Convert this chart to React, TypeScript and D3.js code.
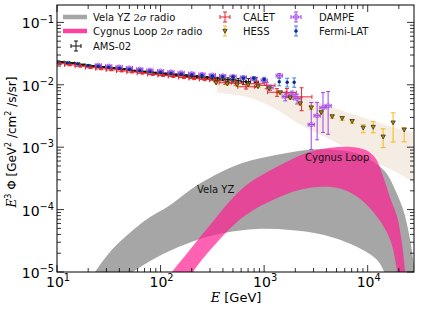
import * as d3 from 'd3';

// ---------- data (E in GeV, E^3 flux in GeV^2/cm^2/s/sr) ----------
const amsE = [10, 11.2, 12.6, 14.1, 15.8, 17.8, 20, 22.4, 25.1, 28.2, 31.6, 35.5, 39.8, 44.7, 50.1, 56.2, 63.1, 70.8, 79.4, 89.1, 100, 112, 126, 141, 158, 178, 200, 224, 251, 282, 316, 355, 398, 447, 501, 562, 631, 708, 840];
const amsF = [0.0235, 0.0231, 0.0226, 0.0222, 0.0218, 0.021, 0.0203, 0.0199, 0.0195, 0.0192, 0.0188, 0.0185, 0.0181, 0.0178, 0.0175, 0.0168, 0.0165, 0.0162, 0.0159, 0.0156, 0.0153, 0.0151, 0.0148, 0.0145, 0.0143, 0.014, 0.0137, 0.0135, 0.0133, 0.013, 0.0129, 0.0125, 0.0124, 0.0121, 0.012, 0.0116, 0.0112, 0.0112, 0.011];
const amsErr = [0.02, 0.02, 0.02, 0.02, 0.02, 0.02, 0.02, 0.02, 0.02, 0.02, 0.02, 0.02, 0.02, 0.02, 0.02, 0.02, 0.02, 0.02, 0.02, 0.02, 0.025, 0.025, 0.03, 0.03, 0.03, 0.035, 0.035, 0.04, 0.04, 0.045, 0.05, 0.055, 0.06, 0.07, 0.08, 0.09, 0.1, 0.12, 0.18];

const calE = [10.6, 13.3, 16.8, 21.1, 26.6, 33.5, 42.2, 53.1, 66.8, 84.1, 106, 133, 168, 211, 266, 335, 422, 531, 669, 842, 1060, 1330, 1660, 2300];
const calF = [0.0218, 0.0208, 0.0198, 0.0188, 0.018, 0.0173, 0.0166, 0.016, 0.0153, 0.0146, 0.0141, 0.0136, 0.0131, 0.0126, 0.0122, 0.0118, 0.0108, 0.0106, 0.0093, 0.0104, 0.0098, 0.0076, 0.0075, 0.0064];
const calErr = [0.03, 0.03, 0.03, 0.03, 0.03, 0.03, 0.03, 0.03, 0.03, 0.03, 0.035, 0.035, 0.04, 0.04, 0.045, 0.05, 0.06, 0.07, 0.08, 0.1, 0.12, 0.14, 0.16, 0.4];
const calBin = [0.05, 0.05, 0.05, 0.05, 0.05, 0.05, 0.05, 0.05, 0.05, 0.05, 0.05, 0.05, 0.05, 0.05, 0.05, 0.05, 0.06, 0.07, 0.08, 0.08, 0.08, 0.09, 0.09, 0.1];

const dampeE = [25, 31.6, 39.8, 50, 63, 79, 100, 126, 158, 200, 251, 316, 398, 501, 631, 794, 1000, 1140, 1400, 1600, 1860, 2080, 2850, 3250, 3700, 4150];
const dampeF = [0.0206, 0.0199, 0.0193, 0.0186, 0.0178, 0.0171, 0.0166, 0.0161, 0.0156, 0.0151, 0.0147, 0.0143, 0.0139, 0.0136, 0.0131, 0.0125, 0.0118, 0.009, 0.014, 0.0065, 0.0069, 0.006, 0.0023, 0.0032, 0.0043, 0.0046];
const dampeDn = [0.03, 0.03, 0.03, 0.03, 0.03, 0.03, 0.03, 0.03, 0.03, 0.03, 0.03, 0.03, 0.035, 0.04, 0.05, 0.06, 0.08, 0.1, 0.08, 0.15, 0.15, 0.18, 0.6, 0.59, 0.6, 0.65];
const dampeUp = [0.03, 0.03, 0.03, 0.03, 0.03, 0.03, 0.03, 0.03, 0.03, 0.03, 0.03, 0.03, 0.035, 0.04, 0.05, 0.06, 0.08, 0.1, 0.08, 0.15, 0.15, 0.18, 1.26, 0.63, 0.74, 0.7];

const fermiE = [10, 12.6, 15.8, 20, 25, 31.6, 40, 50, 63, 79, 100, 126, 158, 200, 251, 316, 398, 501, 631, 794, 1000, 1400, 1670, 1950];
const fermiF = [0.0232, 0.0224, 0.0216, 0.0205, 0.0197, 0.019, 0.0183, 0.0176, 0.0168, 0.0162, 0.0157, 0.0152, 0.0148, 0.0144, 0.014, 0.0137, 0.0135, 0.0133, 0.0128, 0.0127, 0.0122, 0.0112, 0.011, 0.011];
const fermiErr = [0.02, 0.02, 0.02, 0.02, 0.02, 0.02, 0.02, 0.02, 0.02, 0.02, 0.02, 0.02, 0.02, 0.025, 0.03, 0.035, 0.04, 0.05, 0.06, 0.07, 0.08, 0.14, 0.16, 0.17];

const hessE = [344, 440, 548, 700, 875, 1117, 1428, 1783, 2228, 2845, 3556, 4540, 5670, 7080, 9050, 11300, 14100, 17600, 22500];
const hessF = [0.0108, 0.0104, 0.01, 0.01, 0.0094, 0.0087, 0.0075, 0.0062, 0.005, 0.0043, 0.0036, 0.0031, 0.0029, 0.0026, 0.00205, 0.0021, 0.00147, 0.00247, 0.0019];
const hessDn = [0.04, 0.04, 0.04, 0.04, 0.04, 0.05, 0.05, 0.05, 0.05, 0.06, 0.06, 0.06, 0.07, 0.07, 0.17, 0.19, 0.33, 0.51, 0.36];
const hessUp = [0.04, 0.04, 0.04, 0.04, 0.04, 0.05, 0.05, 0.05, 0.05, 0.06, 0.06, 0.06, 0.07, 0.07, 0.12, 0.22, 0.34, 0.44, 0.08];

// HESS systematic band
const beigeUpE = [351, 586, 914, 1428, 2228, 3478, 6070, 10580, 18430, 29420];
const beigeUpV = [0.0121, 0.0112, 0.01, 0.00834, 0.00668, 0.00516, 0.0037, 0.00275, 0.00205, 0.0017];
const beigeLoE = [351, 525, 733, 1023, 1428, 1994, 2783, 4340, 6770, 10580, 18430, 29420];
const beigeLoV = [0.00746, 0.00693, 0.00621, 0.00498, 0.0037, 0.00256, 0.0019, 0.00132, 0.000908, 0.000628, 0.000403, 0.000258];

// Vela YZ 2 sigma radio band
const velaUpE = [20.5, 23.3, 32.5, 54.2, 79.2, 116, 193, 301, 627, 1336, 2783, 4850, 7570, 10580, 14760, 18430, 22030, 25180, 27520, 29420];
const velaUpV = [7e-6, 1e-5, 2.1e-5, 4.7e-5, 7.6e-5, 1.1e-4, 2.07e-4, 3.23e-4, 5.62e-4, 7.55e-4, 9.08e-4, 9.08e-4, 8.13e-4, 6.28e-4, 4.03e-4, 2.07e-4, 9.9e-5, 3.9e-5, 1.56e-5, 7.4e-6];
const velaLoE = [45, 54.2, 79.2, 116, 225, 411, 855, 1782, 3800, 7920, 12350, 14420, 15500];
const velaLoV = [7.5e-6, 1e-5, 1.5e-5, 2.1e-5, 3.27e-5, 4.23e-5, 4.9e-5, 4.72e-5, 3.93e-5, 2.52e-5, 1.56e-5, 1e-5, 7e-6];

// Cygnus Loop 2 sigma radio band
const cygUpE = [112, 129, 193, 301, 627, 1336, 2783, 4340, 6770, 9460, 11810, 14120, 16500, 19280, 21530, 23030, 23600];
const cygUpV = [7e-6, 1e-5, 2.3e-5, 5.68e-5, 2.23e-4, 4.84e-4, 8.43e-4, 9.77e-4, 1.01e-3, 9.08e-4, 6.76e-4, 3.35e-4, 1.54e-4, 7.64e-5, 2.71e-5, 1e-5, 7e-6];
const cygLoE = [185, 206, 301, 627, 1336, 2783, 5070, 7920, 12350, 16500, 19280, 19700];
const cygLoV = [7e-6, 1e-5, 2.25e-5, 7.64e-5, 1.54e-4, 2.23e-4, 2.23e-4, 1.6e-4, 7.64e-5, 3.27e-5, 1e-5, 7e-6];

// ---------- scales ----------
const left = 57, right = 414, top = 5, bottom = 272;
const x = d3.scaleLog().domain([10, 28000]).range([left, right]);
const y = d3.scaleLog().domain([1e-5, 0.19]).range([bottom, top]);

const font = 'DejaVu Sans, sans-serif';

function bandPath(upE: number[], upV: number[], loE: number[], loV: number[]) {
  const line = d3.line<number[]>()
    .x(d => x(d[0]))
    .y(d => y(d[1]))
    .curve(d3.curveCatmullRom.alpha(0.5));
  const up = upE.map((e, i) => [e, upV[i]]);
  const lo = loE.map((e, i) => [e, loV[i]]).reverse();
  return line(up) + (line(lo) || '').replace(/^M/, 'L') + 'Z';
}

function ErrSeries(props: {
  e: number[]; f: number[]; dn: number[]; up: number[]; bin?: number[] | number;
  color: string; cap?: number; marker: (cx: number, cy: number, k: number) => any;
}) {
  const { e, f, dn, up, bin, color, cap = 2 } = props;
  return (
    <g>
      {e.map((ev, i) => {
        const cx = x(ev), cy = y(f[i]);
        const y0 = y(f[i] * (1 - dn[i])), y1 = y(f[i] * (1 + up[i]));
        const hw = bin === undefined ? 0 : (typeof bin === 'number' ? bin : bin[i]);
        const x0 = x(ev * Math.pow(10, -hw)), x1 = x(ev * Math.pow(10, hw));
        return (
          <g key={i} stroke={color} strokeWidth={1} fill="none">
            <line x1={cx} x2={cx} y1={y0} y2={y1} />
            <line x1={cx - cap} x2={cx + cap} y1={y0} y2={y0} />
            <line x1={cx - cap} x2={cx + cap} y1={y1} y2={y1} />
            {hw > 0 && (
              <g>
                <line x1={x0} x2={x1} y1={cy} y2={cy} />
                <line x1={x0} x2={x0} y1={cy - cap} y2={cy + cap} />
                <line x1={x1} x2={x1} y1={cy - cap} y2={cy + cap} />
              </g>
            )}
            {props.marker(cx, cy, i)}
          </g>
        );
      })}
    </g>
  );
}

const colAms = '#111111';
const colCal = '#e8222c';
const colHessErr = '#f7b916';
const colDampe = '#a243e6';
const colFermiErr = '#3f7fe6';
const colFermi = '#0b2a85';
const colGray = '#a6a6a6';
const colPink = '#ff1f93';

const tri = (cx: number, cy: number, s = 2.2) =>
  `M${cx - s},${cy - s * 0.8}L${cx + s},${cy - s * 0.8}L${cx},${cy + s}Z`;

const markers = {
  ams: (cx: number, cy: number) => <circle cx={cx} cy={cy} r={1} fill={colAms} stroke="none" />,
  cal: (cx: number, cy: number) => <circle cx={cx} cy={cy} r={1} fill={colCal} stroke="none" />,
  hess: (cx: number, cy: number) => <path d={tri(cx, cy)} fill="#b08a10" stroke="#222" strokeWidth={0.7} />,
  dampe: (cx: number, cy: number) => <circle cx={cx} cy={cy} r={2.1} fill="none" stroke={colDampe} strokeWidth={0.8} />,
  fermi: (cx: number, cy: number) => <circle cx={cx} cy={cy} r={1.7} fill={colFermi} stroke="none" />,
};

function Sup({ base, exp, size }: { base: string; exp: string; size: number }) {
  return (
    <>
      <tspan>{base}</tspan>
      <tspan dy={-size * 0.42} fontSize={size * 0.7}>{exp}</tspan>
    </>
  );
}

const expLabel = (t: number) => String(Math.round(Math.log10(t))).replace('-', '\u2212');

export default function App() {
  const xTicks = x.ticks();
  const yTicks = y.ticks();
  const isMajor = (v: number) => Math.abs(Math.log10(v) - Math.round(Math.log10(v))) < 1e-6;

  const legendRow = [17, 31, 46];
  const legendErr = (cx: number, cy: number, color: string, horiz: boolean) => (
    <g stroke={color} strokeWidth={1}>
      <line x1={cx} x2={cx} y1={cy - 5} y2={cy + 5} />
      <line x1={cx - 2} x2={cx + 2} y1={cy - 5} y2={cy - 5} />
      <line x1={cx - 2} x2={cx + 2} y1={cy + 5} y2={cy + 5} />
      {horiz && (
        <g>
          <line x1={cx - 5} x2={cx + 5} y1={cy} y2={cy} />
          <line x1={cx - 5} x2={cx - 5} y1={cy - 2} y2={cy + 2} />
          <line x1={cx + 5} x2={cx + 5} y1={cy - 2} y2={cy + 2} />
        </g>
      )}
    </g>
  );

  return (
    <svg width={421} height={316} style={{ position: 'absolute', left: 0, top: 0, background: '#fff' }} fontFamily={font}>
      <defs>
        <clipPath id="plot">
          <rect x={left} y={top} width={right - left} height={bottom - top} />
        </clipPath>
      </defs>
      <rect x={0} y={0} width={421} height={316} fill="#fff" />
      <g clipPath="url(#plot)">
        <path d={bandPath(beigeUpE, beigeUpV, beigeLoE, beigeLoV)} fill="#f5ede3" />
        <path d={bandPath(velaUpE, velaUpV, velaLoE, velaLoV)} fill={colGray} />
        <path d={bandPath(cygUpE, cygUpV, cygLoE, cygLoV)} fill={colPink} fillOpacity={0.7} />
        <ErrSeries e={amsE} f={amsF} dn={amsErr} up={amsErr} bin={0.02} color={colAms} cap={1.5} marker={markers.ams} />
        <ErrSeries e={calE} f={calF} dn={calErr} up={calErr} bin={calBin} color={colCal} cap={2} marker={markers.cal} />
        <ErrSeries e={dampeE} f={dampeF} dn={dampeDn} up={dampeUp} bin={0.03} color={colDampe} cap={2} marker={markers.dampe} />
        <ErrSeries e={fermiE} f={fermiF} dn={fermiErr} up={fermiErr} color={colFermiErr} cap={2} marker={markers.fermi} />
        <ErrSeries e={hessE} f={hessF} dn={hessDn} up={hessUp} color={colHessErr} cap={2.5} marker={markers.hess} />
        <text x={197} y={193} fontSize={10} fill="#111">Vela YZ</text>
        <text x={305} y={161} fontSize={10} fill="#111">Cygnus Loop</text>
      </g>

      {/* frame */}
      <rect x={left} y={top} width={right - left} height={bottom - top} fill="none" stroke="#000" strokeWidth={1} />

      {/* ticks, inward on all four sides */}
      <g stroke="#000" strokeWidth={0.8}>
        {xTicks.map((t, i) => {
          const len = isMajor(t) ? 7 : 4;
          const px = x(t);
          return (
            <g key={'x' + i}>
              <line x1={px} x2={px} y1={bottom} y2={bottom - len} />
              <line x1={px} x2={px} y1={top} y2={top + len} />
            </g>
          );
        })}
        {yTicks.map((t, i) => {
          const len = isMajor(t) ? 7 : 4;
          const py = y(t);
          return (
            <g key={'y' + i}>
              <line x1={left} x2={left + len} y1={py} y2={py} />
              <line x1={right} x2={right - len} y1={py} y2={py} />
            </g>
          );
        })}
      </g>

      {/* tick labels */}
      {xTicks.filter(isMajor).map((t, i) => (
        <text key={'xl' + i} x={x(t) + 1} y={287} fontSize={14} textAnchor="middle" fill="#000">
          <Sup base="10" exp={expLabel(t)} size={14} />
        </text>
      ))}
      {yTicks.filter(isMajor).map((t, i) => (
        <text key={'yl' + i} x={54} y={y(t) + 6} fontSize={14} textAnchor="end" fill="#000">
          <Sup base="10" exp={expLabel(t)} size={14} />
        </text>
      ))}

      {/* axis labels */}
      <text x={236} y={302} fontSize={13} textAnchor="middle" fill="#000">
        <tspan fontFamily="DejaVu Serif, serif" fontStyle="italic">E</tspan>
        <tspan> [GeV]</tspan>
      </text>
      <text transform="translate(16,142) rotate(-90)" fontSize={12} textAnchor="middle" fill="#000">
        <tspan fontFamily="DejaVu Serif, serif" fontStyle="italic">E</tspan>
        <tspan dy={-5} fontSize={8}>3</tspan>
        <tspan dy={5}> Φ [GeV</tspan>
        <tspan dy={-5} fontSize={8}>2</tspan>
        <tspan dy={5}> /cm</tspan>
        <tspan dy={-5} fontSize={8}>2</tspan>
        <tspan dy={5}> /s/sr]</tspan>
      </text>

      {/* legend */}
      <g fontSize={10} fill="#111">
        <line x1={63} x2={87} y1={legendRow[0]} y2={legendRow[0]} stroke={colGray} strokeWidth={4.5} />
        <text x={93} y={legendRow[0] + 3.5}>Vela YZ <tspan fontFamily="DejaVu Serif, serif">2</tspan><tspan fontFamily="DejaVu Serif, serif" fontStyle="italic">σ</tspan> radio</text>
        <line x1={63} x2={87} y1={legendRow[1]} y2={legendRow[1]} stroke={colPink} strokeOpacity={0.85} strokeWidth={4.5} />
        <text x={93} y={legendRow[1] + 3.5}>Cygnus Loop <tspan fontFamily="DejaVu Serif, serif">2</tspan><tspan fontFamily="DejaVu Serif, serif" fontStyle="italic">σ</tspan> radio</text>
        {legendErr(76, legendRow[2], colAms, true)}
        <text x={93} y={legendRow[2] + 3.5}>AMS-02</text>

        {legendErr(225, legendRow[0], colCal, true)}
        <text x={243} y={legendRow[0] + 3.5}>CALET</text>
        {legendErr(225, legendRow[1], colHessErr, false)}
        <path d={tri(225, legendRow[1])} fill="#b08a10" stroke="#222" strokeWidth={0.7} />
        <text x={243} y={legendRow[1] + 3.5}>HESS</text>

        {legendErr(296, legendRow[0], colDampe, true)}
        <circle cx={296} cy={legendRow[0]} r={2.4} fill="none" stroke={colDampe} strokeWidth={0.9} />
        <text x={319} y={legendRow[0] + 3.5}>DAMPE</text>
        {legendErr(296, legendRow[1], colFermiErr, false)}
        <circle cx={296} cy={legendRow[1]} r={1.8} fill={colFermi} />
        <text x={319} y={legendRow[1] + 3.5}>Fermi-LAT</text>
      </g>
    </svg>
  );
}
